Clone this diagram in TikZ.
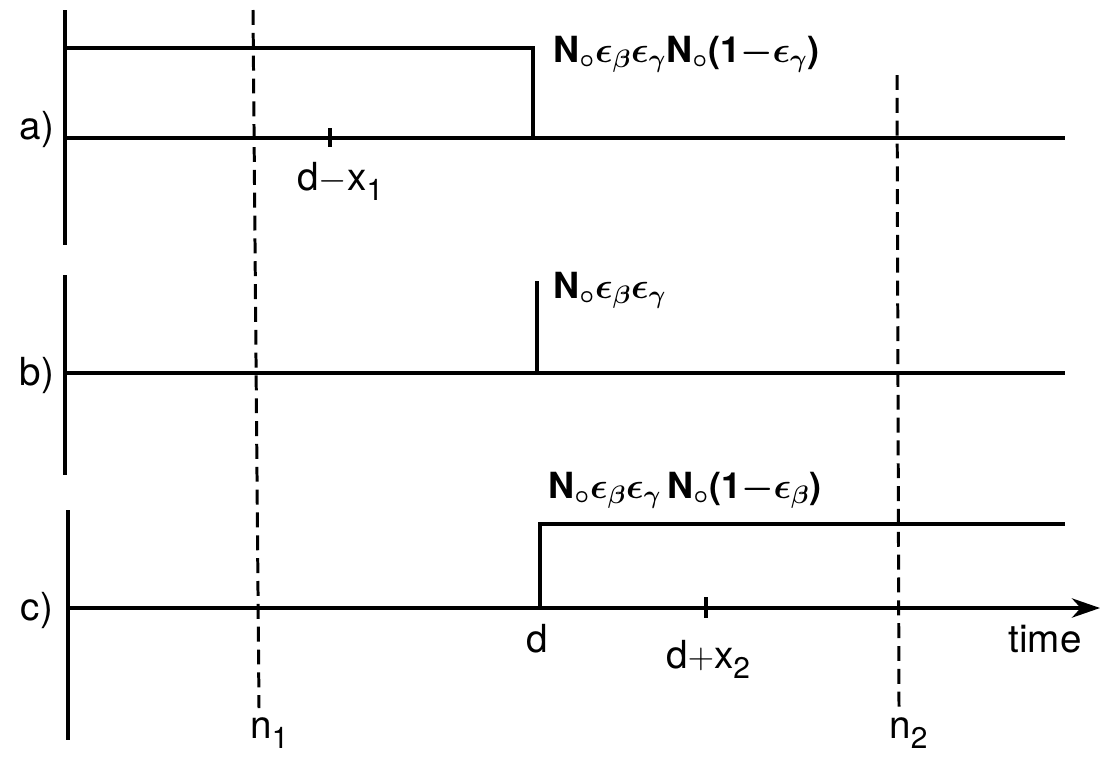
\documentclass[tikz,border=0pt]{standalone}
\usepackage{fontspec}
\setmainfont{TeX Gyre Heros}
\usetikzlibrary{arrows.meta}
\newcommand{\No}{N\kern0.01em$_{\circ}$}
\newcommand{\sub}[1]{\raisebox{-0.5ex}{\fontsize{17}{17}\selectfont #1}}
\begin{document}
\begin{tikzpicture}[x=0.02cm,y=-0.02cm,
  line/.style={line width=1.8pt},
  tick/.style={line width=2.4pt},
  dashline/.style={line width=1.7pt, dash pattern=on 8.5pt off 4.5pt},
  lab/.style={inner sep=0pt, font=\fontsize{22}{26}\selectfont},
  mlab/.style={inner sep=0pt, anchor=base west, font=\fontsize{20.5}{24}\selectfont\bfseries\boldmath}]
\useasboundingbox (0,0) rectangle (1108,758);
% coordinates
\coordinate (aT) at (65,10); \coordinate (aB) at (65,245);
\coordinate (a0) at (65,138); \coordinate (aE) at (1065,138);
\coordinate (p1) at (65,48); \coordinate (p2) at (533,48); \coordinate (p3) at (533,138);
\coordinate (tk1a) at (330,128); \coordinate (tk1b) at (330,147);
\coordinate (bT) at (65,275); \coordinate (bB) at (65,475);
\coordinate (b0) at (65,373); \coordinate (bE) at (1065,373);
\coordinate (s1) at (537,281); \coordinate (s2) at (537,373);
\coordinate (cT) at (68,510); \coordinate (cB) at (68,740);
\coordinate (c0) at (68,608); \coordinate (cE) at (1100,608);
\coordinate (q1) at (540,608); \coordinate (q2) at (540,524); \coordinate (q3) at (1065,524);
\coordinate (tk2a) at (706,597); \coordinate (tk2b) at (706,618);
\coordinate (n1T) at (253,10); \coordinate (n1B) at (259,708);
\coordinate (n2T) at (897,75); \coordinate (n2B) at (899,708);
% panel a
\draw[line] (aT) -- (aB);
\draw[line] (a0) -- (aE);
\draw[line] (p1) -- (p2) -- (p3);
\draw[tick] (tk1a) -- (tk1b);
% panel b
\draw[line] (bT) -- (bB);
\draw[line] (b0) -- (bE);
\draw[line] (s1) -- (s2);
% panel c
\draw[line] (cT) -- (cB);
\draw[line, -{Stealth[length=16pt,width=11pt,inset=5pt]}] (c0) -- (cE);
\draw[line] (q1) -- (q2) -- (q3);
\draw[tick] (tk2a) -- (tk2b);
% dashed
\draw[dashline] (n1T) -- (n1B);
\draw[dashline] (n2T) -- (n2B);
% labels
\node[lab] (la) at (37,130) {a)};
\node[lab] (lb) at (37,375) {b)};
\node[lab] (lc) at (37,610) {c)};
\node[mlab] (ea) at (553,62) {\No$\epsilon_\beta\epsilon_\gamma$\No(1$-\epsilon_\gamma$)};
\node[mlab] (eb) at (553,298) {\No$\epsilon_\beta\epsilon_\gamma$};
\node[mlab] (ec) at (548,498) {\No$\epsilon_\beta\epsilon_\gamma$\,\No(1$-\epsilon_\beta$)};
\node[lab, anchor=base west] (dx1) at (297,190) {d$-$x\sub{1}};
\node[lab, anchor=base] (d) at (537,652) {d};
\node[lab, anchor=base west] (dx2) at (666,668) {d$+$x\sub{2}};
\node[lab, anchor=base] (time) at (1045,652) {time};
\node[lab, anchor=base west] (n1) at (250,738) {n\sub{1}};
\node[lab, anchor=base west] (n2) at (889,738) {n\sub{2}};
\end{tikzpicture}
\end{document}
